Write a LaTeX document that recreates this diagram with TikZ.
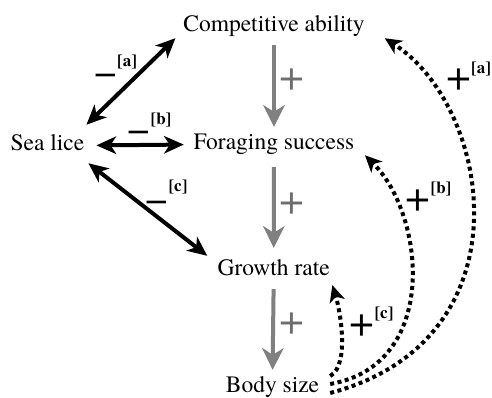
\documentclass[tikz,border=0pt]{standalone}
\usepackage{fontspec}
\newfontfamily\tnr{texgyretermes}[Extension=.otf, UprightFont=*-regular, BoldFont=*-bold]
\usetikzlibrary{arrows.meta}
\definecolor{arrgray}{RGB}{128,128,128}
\definecolor{plusgray}{RGB}{110,110,110}
\begin{document}
\begin{tikzpicture}[x=1pt,y=-1pt,
  lbl/.style={font=\tnr\fontsize{23.5}{28}\selectfont, inner sep=0pt, text height=16.1pt, text depth=5.1pt, anchor=base},
  grayarr/.style={draw=arrgray, line width=4pt, -{Stealth[length=22pt,width=22pt,inset=7pt,line width=0pt]}},
  blkarr/.style={draw=black, line width=4pt, {Stealth[length=20pt,width=18pt,inset=6pt,line width=0pt]}-{Stealth[length=20pt,width=18pt,inset=6pt,line width=0pt]}},
  dotarr/.style={draw=black, line width=4pt, dash pattern=on 4pt off 3.5pt, -{Stealth[length=17pt,width=16pt,inset=5pt,line width=0pt]}},
  gplus/.style={font=\tnr\fontsize{44}{44}\selectfont, text=plusgray, inner sep=0pt, anchor=base},
  bplus/.style={font=\tnr\fontsize{44}{44}\selectfont, text=black, inner sep=0pt, anchor=base},
  bminus/.style={font=\tnr\fontsize{40}{40}\selectfont, text=black, inner sep=0pt, anchor=base},
  tag/.style={font=\tnr\bfseries\fontsize{17}{20}\selectfont, inner sep=0pt, anchor=center}
]
\useasboundingbox (0,0) rectangle (492,398);

% main nodes
\node[lbl] (comp)   at (274,31.7) {Competitive ability};
\node[lbl] (forag)  at (274,150)  {Foraging success};
\node[lbl] (sea)    at (47.4,151) {Sea lice};
\node[lbl] (growth) at (273.7,275) {Growth rate};
\node[lbl] (body)   at (272.5,392) {Body size};

% gray vertical arrows
\draw[grayarr, shorten <=8.2pt, shorten >=6.9pt] (comp.south) -- (forag.north);
\draw[grayarr, shorten <=11.9pt, shorten >=10.9pt] (forag.south) -- (growth.north);
\draw[grayarr, shorten <=8.9pt, shorten >=5.9pt] (growth.south) -- (body.north);

\node[gplus] (pg1) at (292,91)  {+};
\node[gplus] (pg2) at (292,214) {+};
\node[gplus] (pg3) at (292,334) {+};

% black double arrows
\draw[blkarr] ([xshift=2pt,yshift=10pt]sea.north east) -- ([xshift=-7.7pt,yshift=-1.2pt]comp.south west);
\draw[blkarr, shorten <=12pt, shorten >=9.7pt] (sea.east) -- (forag.west);
\draw[blkarr] ([xshift=4pt,yshift=-7pt]sea.south east) -- ([xshift=-10.2pt,yshift=2.9pt]growth.north west);

\node[bminus] (ma) at (106,86)  {−};
\node[tag]    (la) at (127,62.5) {[a]};
\node[bminus] (mb) at (139,143) {−};
\node[tag]    (lb) at (161,120)   {[b]};
\node[bminus] (mc) at (157,212) {−};
\node[tag]    (lc) at (178,187)   {[c]};

% dotted curved arrows from body size
\draw[dotarr] ([xshift=10.8pt,yshift=10.5pt]body.east) .. controls (350,365) and (340,310) .. ([xshift=2.4pt,yshift=-4.9pt]growth.south east);
\draw[dotarr] ([xshift=10.8pt,yshift=2.5pt]body.east) .. controls (440,365) and (425,215) .. ([xshift=10.4pt]forag.south east);
\draw[dotarr] ([xshift=10.8pt,yshift=-6.5pt]body.east) .. controls (530,340) and (492,108) .. ([xshift=19.9pt,yshift=-1.2pt]comp.south east);

\node[bplus] (pc) at (362,336) {+};
\node[tag]   (dc) at (384,314) {[c]};
\node[bplus] (pb) at (418,211) {+};
\node[tag]   (db) at (441,189) {[b]};
\node[bplus] (pa) at (459,91)  {+};
\node[tag]   (da) at (481,69)  {[a]};
\end{tikzpicture}
\end{document}
